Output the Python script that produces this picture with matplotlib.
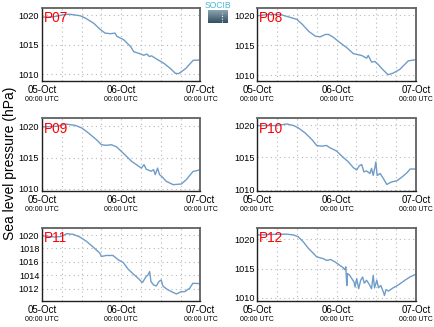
import numpy as np
import matplotlib
matplotlib.use('Agg')
import matplotlib.pyplot as plt
from matplotlib.transforms import blended_transform_factory
from matplotlib.colors import LinearSegmentedColormap

plt.rcParams['font.family'] = ['Liberation Sans', 'DejaVu Sans']

# ---------------- data (hours since 05-Oct 00:00 UTC, hPa) ----------------
stations = ['P07', 'P08', 'P09', 'P10', 'P11', 'P12']

t_p07 = [0, 3.4, 6.5, 8.2, 11.5, 13.1, 15.6, 17.6, 19.1, 20.7, 22.1, 22.7, 24.7,
         26.8, 27.8, 29.5, 30.8, 31.8, 32.5, 33.2, 34.9, 36.9, 38.9, 40.4, 41.4,
         43.5, 45.8, 48]
p_p07 = [1019.65, 1019.7, 1020.05, 1020.15, 1019.9, 1019.5, 1018.65, 1017.6,
         1016.95, 1016.85, 1016.95, 1016.4, 1015.85, 1014.7, 1013.8, 1013.5,
         1013.2, 1013.4, 1013.0, 1013.1, 1012.5, 1011.85, 1010.95, 1010.15,
         1010.1, 1010.95, 1012.35, 1012.4]

t_p08 = [0, 3.0, 7.0, 9.0, 12.0, 13.6, 15.6, 17.6, 19.1, 20.6, 21.6, 23.1, 25.1,
         27.1, 29.1, 31.6, 33.1, 33.6, 34.6, 35.6, 36.6, 38.1, 39.6, 41.1, 43.2,
         45.7, 48]
p_p08 = [1019.9, 1020.1, 1020.1, 1019.8, 1019.3, 1018.5, 1017.3, 1016.5, 1016.4,
         1016.8, 1016.8, 1016.3, 1015.4, 1014.6, 1013.6, 1013.3, 1012.85, 1013.3,
         1012.2, 1012.3, 1011.8, 1010.9, 1010.1, 1010.35, 1011.0, 1012.4, 1012.6]

t_p09 = [0, 4.4, 7.4, 10.0, 12.0, 14.0, 16.5, 18.0, 19.5, 21.0, 22.6, 24.6, 27.1,
         28.6, 30.1, 30.9, 31.6, 33.1, 33.8, 34.3, 35.0, 35.6, 36.3, 37.6, 39.7,
         42.2, 43.7, 45.7, 48]
p_p09 = [1019.9, 1020.0, 1020.35, 1020.15, 1019.75, 1018.95, 1017.85, 1017.05,
         1016.95, 1017.05, 1016.7, 1015.7, 1014.4, 1013.85, 1013.3, 1013.85,
         1013.1, 1012.8, 1013.05, 1012.25, 1013.3, 1012.25, 1011.95, 1011.2,
         1010.65, 1010.75, 1011.45, 1012.75, 1013.05]

t_p10 = [0.3, 5.9, 8.9, 11.0, 12.4, 14.5, 16.5, 18.0, 19.5, 21.0, 22.0, 24.0,
         25.6, 27.6, 29.1, 30.1, 30.9, 31.6, 32.3, 33.1, 34.1, 34.6, 35.1, 35.6,
         35.9, 36.3, 37.2, 38.2, 39.2, 40.7, 42.2, 43.7, 45.3, 46.3, 47.8]
p_p10 = [1019.95, 1019.95, 1020.2, 1019.95, 1019.6, 1018.8, 1017.8, 1016.85,
         1016.75, 1016.85, 1016.5, 1016.0, 1015.2, 1014.3, 1013.4, 1013.05,
         1013.7, 1013.9, 1012.75, 1012.9, 1012.5, 1013.3, 1012.2, 1013.4,
         1014.3, 1012.2, 1012.5, 1011.7, 1010.8, 1011.2, 1011.35, 1011.9,
         1012.6, 1013.2, 1013.2]

t_p11 = [0, 3.9, 5.9, 7.5, 9.5, 11.5, 13.5, 15.5, 17.5, 18.0, 19.5, 21.5, 23.1,
         24.6, 26.1, 27.6, 29.1, 30.4, 31.4, 32.1, 32.6, 33.0, 33.8, 34.6, 35.4,
         36.1, 36.6, 37.6, 38.6, 40.7, 42.2, 43.2, 44.7, 45.7, 47.7]
p_p11 = [1019.9, 1019.7, 1019.8, 1020.2, 1020.1, 1019.7, 1019.05, 1018.2,
         1017.3, 1016.8, 1016.95, 1016.95, 1016.3, 1015.9, 1014.9, 1014.2,
         1013.55, 1012.9, 1013.7, 1014.05, 1014.55, 1013.05, 1012.55, 1012.4,
         1013.05, 1013.3, 1012.4, 1012.0, 1011.7, 1011.2, 1011.55, 1011.55,
         1012.05, 1012.8, 1012.75]

t_p12 = [0.3, 4.8, 8.9, 11.0, 12.4, 13.9, 15.5, 17.0, 18.0, 20.0, 21.0, 22.2,
         23.5, 25.0, 26.0, 26.5, 26.8, 27.1, 27.3, 27.9, 28.6, 29.3, 29.6, 30.1,
         30.7, 31.3, 31.9, 32.4, 33.1, 33.9, 34.6, 35.1, 35.5, 36.2, 36.7, 37.4,
         38.2, 38.5, 39.0, 39.7, 41.0, 42.7, 44.7, 46.2, 47.7]
p_p12 = [1020.75, 1020.85, 1020.9, 1020.75, 1020.45, 1019.6, 1018.45, 1017.6,
         1017.0, 1016.7, 1016.4, 1016.55, 1016.15, 1015.55, 1015.15, 1014.8,
         1015.3, 1012.1, 1014.15, 1013.9, 1013.3, 1012.7, 1011.85, 1013.3,
         1011.55, 1013.0, 1013.55, 1012.5, 1013.0, 1012.3, 1011.55, 1013.85,
         1011.7, 1013.0, 1011.7, 1012.1, 1010.95, 1010.4, 1011.4, 1011.15,
         1011.65, 1012.2, 1013.0, 1013.55, 1013.95]

times = [t_p07, t_p08, t_p09, t_p10, t_p11, t_p12]
pressures = [p_p07, p_p08, p_p09, p_p10, p_p11, p_p12]
ylims = [(1008.9, 1021.2), (1009.1, 1021.2), (1009.6, 1021.25),
         (1009.75, 1021.05), (1010.2, 1021.05), (1009.5, 1021.95)]
yticks_default = [1010, 1015, 1020]
yticks_p11 = [1012, 1014, 1016, 1018, 1020]
day_ticks = [0, 24, 48]
day_labels = ['05-Oct', '06-Oct', '07-Oct']
time_labels = ['00:00 UTC', '00:00 UTC', '00:00 UTC']
ylabel = 'Sea level pressure (hPa)'

# ---------------- layout ----------------
W, H = 435, 327
fig = plt.figure(figsize=(W / 100, H / 100), dpi=100)

col_left = [42, 257.3]
col_w = 158.5
row_top = [8, 118.5, 228]
row_h = 72.7

line_color = '#6f9cc8'
grid_color = '#b8b8b8'

for i, name in enumerate(stations):
    r, c = divmod(i, 2)
    x0 = col_left[c] / W
    y0 = 1 - (row_top[r] + row_h) / H
    ax = fig.add_axes([x0, y0, col_w / W, row_h / H])
    ax.plot(times[i], pressures[i], color=line_color, lw=1.0)
    ax.set_xlim(0, 48)
    ax.set_ylim(*ylims[i])
    ax.set_yticks(yticks_p11 if name == 'P11' else yticks_default)
    ax.set_xticks(day_ticks)
    ax.set_xticklabels(day_labels, fontsize=7)
    ax.set_xticks(np.arange(6, 48, 6), minor=True)
    ax.tick_params(axis='both', which='both', length=0)
    ax.tick_params(axis='x', pad=3)
    ax.tick_params(axis='y', labelsize=6.6, pad=2)
    ax.grid(True, which='both', axis='x', color=grid_color, ls=(0, (1, 3)), lw=0.8)
    ax.grid(True, which='major', axis='y', color=grid_color, ls=(0, (1, 3)), lw=0.8)
    for side, s in ax.spines.items():
        if side in ('right', 'top'):
            s.set_color('#606060')
            s.set_linewidth(1.3)
        else:
            s.set_color('#202020')
            s.set_linewidth(1.0)
    ax.text(0.012, 0.955, name, transform=ax.transAxes, color='#ff0000',
            fontsize=9.8, ha='left', va='top')
    tr = blended_transform_factory(ax.transData, ax.transAxes)
    for tx, lab in zip(day_ticks, time_labels):
        ax.annotate(lab, xy=(tx, 0), xycoords=tr, xytext=(0, -13.2),
                    textcoords='offset points', ha='center', va='center',
                    fontsize=5)

fig.text(10 / W, 0.5, ylabel, rotation=90, ha='center', va='center', fontsize=10)

# logo
lax = fig.add_axes([208 / W, 1 - 23 / H, 20 / W, 13 / H])
grad = np.linspace(0, 1, 50).reshape(-1, 1)
cm = LinearSegmentedColormap.from_list('g', ['#8aa3b0', '#33505e'])
lax.imshow(grad, aspect='auto', cmap=cm, extent=(0, 1, 0, 1), origin='upper')
lax.plot([0.68, 0.68], [0.1, 0.75], color='white', ls=(0, (1, 1.5)), lw=0.8)
lax.set_xlim(0, 1)
lax.set_ylim(0, 1)
lax.axis('off')
fig.text(218 / W, 1 - 5.5 / H, 'SOCIB', color='#45bcd6', fontsize=6.2,
         ha='center', va='center')

fig.savefig('out.png', dpi=100)
